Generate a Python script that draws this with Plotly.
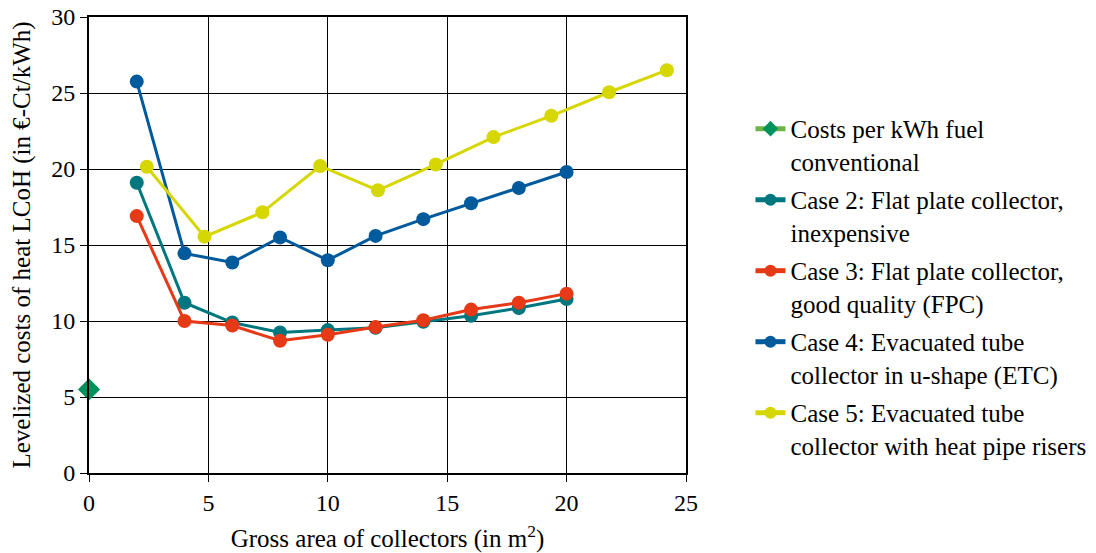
import plotly.graph_objects as go

# Data
fuel_x = [0]
fuel_y = [5.5]

case_x = [2, 4, 6, 8, 10, 12, 14, 16, 18, 20]
case2_y = [19.1, 11.2, 9.9, 9.25, 9.4, 9.55, 9.95, 10.35, 10.85, 11.45]
case3_y = [16.9, 10.0, 9.7, 8.7, 9.1, 9.6, 10.05, 10.75, 11.2, 11.8]
case4_y = [25.75, 14.45, 13.85, 15.5, 14.0, 15.6, 16.7, 17.75, 18.75, 19.8]

case5_x = [2.42, 4.84, 7.26, 9.68, 12.1, 14.52, 16.94, 19.36, 21.78, 24.2]
case5_y = [20.15, 15.55, 17.15, 20.2, 18.6, 20.3, 22.1, 23.5, 25.05, 26.5]

names = [
    "Costs per kWh fuel<br>conventional",
    "Case 2: Flat plate collector,<br>inexpensive",
    "Case 3: Flat plate collector,<br>good quality (FPC)",
    "Case 4: Evacuated tube<br>collector in u-shape (ETC)",
    "Case 5: Evacuated tube<br>collector with heat pipe risers",
]

x_ticks = [0, 5, 10, 15, 20, 25]
y_ticks = [0, 5, 10, 15, 20, 25, 30]

FONT = "Liberation Serif"

fig = go.Figure()
fig.add_trace(go.Scatter(x=fuel_x, y=fuel_y, name=names[0], mode="lines+markers",
                         legendgroup="g1", cliponaxis=False,
                         line=dict(color="#6FB44A", width=3),
                         marker=dict(symbol="diamond", size=17, color="#00925C")))
series = [
    (case_x, case2_y, names[1], "#00767E", "g2"),
    (case_x, case3_y, names[2], "#E63A17", "g3"),
    (case_x, case4_y, names[3], "#005A9C", "g4"),
    (case5_x, case5_y, names[4], "#D6D600", "g5"),
]
for xs, ys, nm, col, grp in series:
    fig.add_trace(go.Scatter(x=xs, y=ys, name=nm, mode="lines+markers",
                             legendgroup=grp, cliponaxis=False,
                             line=dict(color=col, width=3),
                             marker=dict(symbol="circle", size=14, color=col)))

fig.update_layout(
    width=1096, height=553,
    margin=dict(l=81, r=418, t=9, b=88, autoexpand=False),
    paper_bgcolor="white", plot_bgcolor="white",
    font=dict(family=FONT, size=25, color="black"),
    legend=dict(x=1.108, xanchor="left", y=0.805, yanchor="top",
                font=dict(family=FONT, size=25, color="black"),
                tracegroupgap=3, itemsizing="constant", valign="top",
                bgcolor="rgba(0,0,0,0)"),
    showlegend=True,
)
fig.update_xaxes(range=[0, 25], tickvals=x_ticks, showgrid=True, gridcolor="black", gridwidth=1,
                 showline=True, linecolor="black", linewidth=2, mirror=True,
                 ticks="outside", ticklen=7, tickcolor="black", zeroline=False, automargin=False,
                 ticklabeloverflow="allow",
                 title=dict(text="Gross area of collectors (in m<sup>2</sup>)", standoff=15,
                            font=dict(family=FONT, size=25)),
                 tickfont=dict(family=FONT, size=24))
fig.update_yaxes(range=[0, 30], tickvals=y_ticks, showgrid=True, gridcolor="black", gridwidth=1,
                 showline=True, linecolor="black", linewidth=2, mirror=True,
                 ticks="outside", ticklen=7, tickcolor="black", zeroline=False, automargin=False,
                 ticklabeloverflow="allow",
                 title=dict(text="Levelized costs of heat LCoH (in €-Ct/kWh)", standoff=15,
                            font=dict(family=FONT, size=25)),
                 tickfont=dict(family=FONT, size=24))

fig.write_html("out.html")
